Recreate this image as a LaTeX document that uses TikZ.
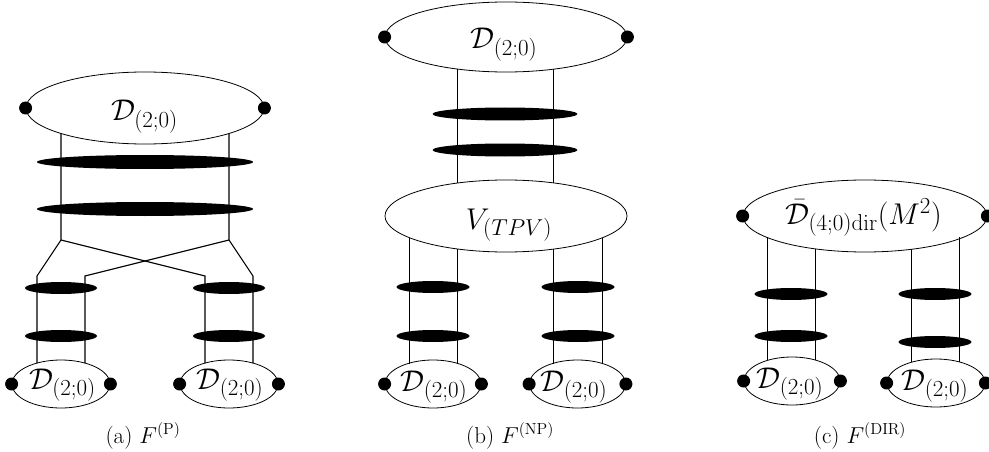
\RequirePackage{fix-cm}
\documentclass[tikz,border=0pt]{standalone}
\usetikzlibrary{shapes.geometric}
\DeclareMathSizes{30}{30}{23}{16}
\DeclareMathSizes{23}{23}{16}{12}
\begin{document}
\begin{tikzpicture}[x=1pt,y=-1pt,
  blob/.style={ellipse,draw,line width=0.8pt,inner sep=0pt},
  lbl/.style={anchor=base,inner sep=0pt,font=\fontsize{30}{36}\selectfont},
  rung/.style={ellipse,fill=black,inner sep=0pt},
  dot/.style={circle,fill=black,inner sep=0pt,minimum size=13pt},
  legA/.style={line width=1.1pt},
  leg/.style={line width=0.7pt},
  captext/.style={anchor=base,inner sep=0pt,font=\fontsize{23}{28}\selectfont}]
\useasboundingbox (0,0) rectangle (989,452);
% ================= (a) =================
\node[blob,minimum width=238pt,minimum height=72pt] (topA) at (145,108) {};
\node[lbl] (topAt) at (144.5,121) {$\mathcal{D}_{(2;0)}$};
\node[blob,minimum width=98pt,minimum height=48pt] (botA1) at (61,384) {};
\node[blob,minimum width=98pt,minimum height=48pt] (botA2) at (229,384) {};
\node[lbl] (botA1t) at (62.5,389) {$\mathcal{D}_{(2;0)}$};
\node[lbl] (botA2t) at (230,389) {$\mathcal{D}_{(2;0)}$};
\coordinate (a1) at (61,133.5);
\coordinate (a2) at (229,133.5);
\coordinate (a1s) at (61,240);
\coordinate (a2s) at (229,240);
\coordinate (b1) at (37,276);
\coordinate (b2) at (85,276);
\coordinate (b3) at (205,276);
\coordinate (b4) at (253,276);
\coordinate (c1) at (37,363);
\coordinate (c2) at (85,363);
\coordinate (c3) at (205,363);
\coordinate (c4) at (253,363);
\draw[legA] (a1) -- (a1s) -- (b1) -- (c1);
\draw[legA] (a1s) -- (b3) -- (c3);
\draw[legA] (a2) -- (a2s) -- (b4) -- (c4);
\draw[legA] (a2s) -- (b2) -- (c2);
\node[rung,minimum width=216pt,minimum height=14pt] (ra1) at (145,162) {};
\node[rung,minimum width=216pt,minimum height=14pt] (ra2) at (145,209) {};
\node[rung,minimum width=72pt,minimum height=12pt] (ra3) at (61,288) {};
\node[rung,minimum width=72pt,minimum height=12pt] (ra4) at (61,336) {};
\node[rung,minimum width=72pt,minimum height=12pt] (ra5) at (229,288) {};
\node[rung,minimum width=72pt,minimum height=12pt] (ra6) at (229,336) {};
\node[dot] (topAL) at (topA.west) {};
\node[dot] (topAR) at (topA.east) {};
\node[dot] (botA1L) at (botA1.west) {};
\node[dot] (botA1R) at (botA1.east) {};
\node[dot] (botA2L) at (botA2.west) {};
\node[dot] (botA2R) at (botA2.east) {};
\node[captext] (capA) at (143,443) {(a) $F^{(\mathrm{P})}$};
% ================= (b) =================
\node[blob,minimum width=242pt,minimum height=70pt] (topB) at (506,37) {};
\node[lbl] (topBt) at (504,49) {$\mathcal{D}_{(2;0)}$};
\node[blob,minimum width=242pt,minimum height=72pt] (vB) at (506,216) {};
\node[lbl] (vBt) at (509,229) {$V_{(TPV)}$};
\node[blob,minimum width=96pt,minimum height=48pt] (botB1) at (433,384) {};
\node[blob,minimum width=96pt,minimum height=48pt] (botB2) at (577.5,384) {};
\node[lbl] (botB1t) at (434,391) {$\mathcal{D}_{(2;0)}$};
\node[lbl] (botB2t) at (574,391) {$\mathcal{D}_{(2;0)}$};
\coordinate (d1) at (457,69);
\coordinate (d2) at (553,69);
\coordinate (d1e) at (457,183);
\coordinate (d2e) at (553,183);
\coordinate (e1) at (409,237.5);
\coordinate (e2) at (457,249);
\coordinate (e3) at (553,249);
\coordinate (e4) at (602,237.5);
\coordinate (f1) at (409,363.5);
\coordinate (f2) at (457,363.5);
\coordinate (f3) at (553,363.5);
\coordinate (f4) at (602,363.5);
\draw[leg] (d1) -- (d1e);
\draw[leg] (d2) -- (d2e);
\draw[leg] (e1) -- (f1);
\draw[leg] (e2) -- (f2);
\draw[leg] (e3) -- (f3);
\draw[leg] (e4) -- (f4);
\node[rung,minimum width=145pt,minimum height=13pt] (rb1) at (505,114) {};
\node[rung,minimum width=145pt,minimum height=13pt] (rb2) at (505,150) {};
\node[rung,minimum width=73pt,minimum height=12pt] (rb3) at (433,287) {};
\node[rung,minimum width=73pt,minimum height=12pt] (rb4) at (433,336) {};
\node[rung,minimum width=73pt,minimum height=12pt] (rb5) at (578,287) {};
\node[rung,minimum width=73pt,minimum height=12pt] (rb6) at (578,336) {};
\node[dot] (topBL) at (topB.west) {};
\node[dot] (topBR) at (topB.east) {};
\node[dot] (botB1L) at (botB1.west) {};
\node[dot] (botB1R) at (botB1.east) {};
\node[dot] (botB2L) at (botB2.west) {};
\node[dot] (botB2R) at (botB2.east) {};
\node[captext] (capB) at (510,443) {(b) $F^{(\mathrm{NP})}$};
% ================= (c) =================
\node[blob,minimum width=244pt,minimum height=72pt] (topC) at (865,216) {};
\node[lbl] (topCt) at (863.5,224) {$\bar{\mathcal{D}}_{(4;0)\mathrm{dir}}(M^2)$};
\node[blob,minimum width=96pt,minimum height=48pt] (botC1) at (792,381) {};
\node[blob,minimum width=98pt,minimum height=48pt] (botC2) at (936,383) {};
\node[lbl] (botC1t) at (790,388) {$\mathcal{D}_{(2;0)}$};
\node[lbl] (botC2t) at (935,390) {$\mathcal{D}_{(2;0)}$};
\coordinate (g1) at (767,237.4);
\coordinate (g2) at (815,248.8);
\coordinate (g3) at (911,248.8);
\coordinate (g4) at (959,237.4);
\coordinate (h1) at (767,360);
\coordinate (h2) at (815,360);
\coordinate (h3) at (911,362);
\coordinate (h4) at (959,362);
\draw[leg] (g1) -- (h1);
\draw[leg] (g2) -- (h2);
\draw[leg] (g3) -- (h3);
\draw[leg] (g4) -- (h4);
\node[rung,minimum width=73pt,minimum height=12pt] (rc1) at (791,294) {};
\node[rung,minimum width=73pt,minimum height=12pt] (rc2) at (791,336) {};
\node[rung,minimum width=73pt,minimum height=12pt] (rc3) at (935,294) {};
\node[rung,minimum width=73pt,minimum height=12pt] (rc4) at (935,342) {};
\node[dot] (topCL) at (topC.west) {};
\node[dot] (topCR) at (topC.east) {};
\node[dot] (botC1L) at (botC1.west) {};
\node[dot] (botC1R) at (botC1.east) {};
\node[dot] (botC2L) at (botC2.west) {};
\node[dot] (botC2R) at (botC2.east) {};
\node[captext] (capC) at (860,443) {(c) $F^{(\mathrm{DIR})}$};
\end{tikzpicture}
\end{document}
